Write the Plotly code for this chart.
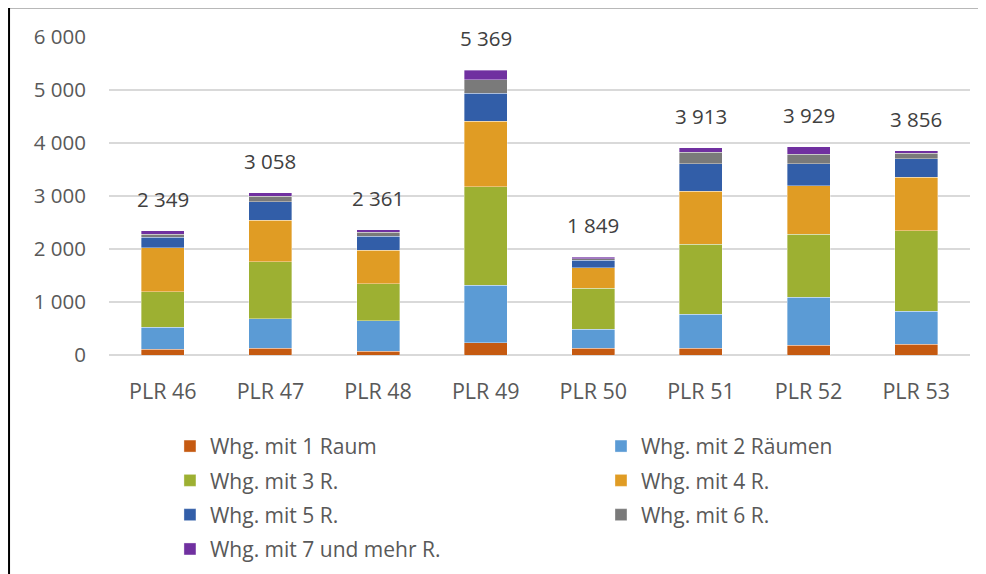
import plotly.graph_objects as go

categories = ["PLR 46", "PLR 47", "PLR 48", "PLR 49", "PLR 50", "PLR 51", "PLR 52", "PLR 53"]
series_names = ["Whg. mit 1 Raum", "Whg. mit 2 Räumen", "Whg. mit 3 R.", "Whg. mit 4 R.",
                "Whg. mit 5 R.", "Whg. mit 6 R.", "Whg. mit 7 und mehr R."]
r1 = [112, 125, 69, 232, 125, 126, 182, 201]
r2 = [413, 563, 581, 1085, 364, 640, 904, 628]
r3 = [669, 1068, 694, 1862, 771, 1325, 1193, 1519]
r4 = [825, 788, 637, 1235, 389, 998, 917, 1005]
r5 = [200, 350, 263, 526, 138, 515, 415, 352]
r6 = [62, 106, 69, 257, 30, 226, 175, 100]
r7 = [68, 58, 48, 172, 32, 83, 143, 51]
totals = [2349, 3058, 2361, 5369, 1849, 3913, 3929, 3856]
colors = ["#C55A11", "#5B9BD5", "#9DB032", "#E09C24", "#325EA8", "#7A7A7A", "#7030A0"]

series = [r1, r2, r3, r4, r5, r6, r7]
font_family = "'Open Sans', sans-serif"

fig = go.Figure()
for i, (name, vals, col) in enumerate(zip(series_names, series, colors)):
    fig.add_trace(go.Bar(x=categories, y=vals, name=name,
                         legend="legend" if i % 2 == 0 else "legend2",
                         legendgroup=f"g{i}",
                         marker=dict(color=col, line=dict(color="rgba(255,255,255,0.6)", width=0.6)),
                         hoverinfo="skip"))

for c, t in zip(categories, totals):
    fig.add_annotation(x=c, y=t, text=f"{t:,}".replace(",", " "), showarrow=False,
                       yanchor="middle", yshift=32,
                       font=dict(family=font_family, size=20.5, color="#404040"))

leg_common = dict(orientation="v", yanchor="top", y=-0.223, traceorder="grouped",
                  tracegroupgap=4, bgcolor="rgba(0,0,0,0)", itemclick=False,
                  font=dict(family=font_family, size=21, color="#595959"))

fig.update_layout(
    barmode="stack",
    bargap=0.6,
    width=978, height=566,
    margin=dict(l=101, r=16, t=29, b=219, autoexpand=False),
    paper_bgcolor="white", plot_bgcolor="white",
    separators=", ",
    font=dict(family=font_family, size=20, color="#595959"),
    showlegend=True,
    legend=dict(x=0.0708, xanchor="left", **leg_common),
    legend2=dict(x=0.5714, xanchor="left", **leg_common),
    xaxis=dict(showgrid=False, showline=False, ticks="", ticklabelstandoff=21,
               tickfont=dict(family=font_family, size=21.5, color="#595959")),
    yaxis=dict(range=[0, 6000], dtick=1000, tickformat=",d", showgrid=True,
               gridcolor="#D9D9D9", gridwidth=1.5, zeroline=True, zerolinecolor="#D9D9D9",
               zerolinewidth=1.5, showline=False, ticks="", ticklabelstandoff=22,
               tickfont=dict(family=font_family, size=20.5, color="#595959")),
    shapes=[
        dict(type="line", xref="paper", yref="paper", x0=-0.1161, x1=1.0186, y0=1.0912, y1=1.0912,
             line=dict(color="#A0A0A0", width=1.5)),
        dict(type="line", xref="paper", yref="paper", x0=-0.1161, x1=-0.1161, y0=1.0912, y1=-0.69,
             line=dict(color="#000000", width=2)),
    ],
)

fig.write_html("out.html")
